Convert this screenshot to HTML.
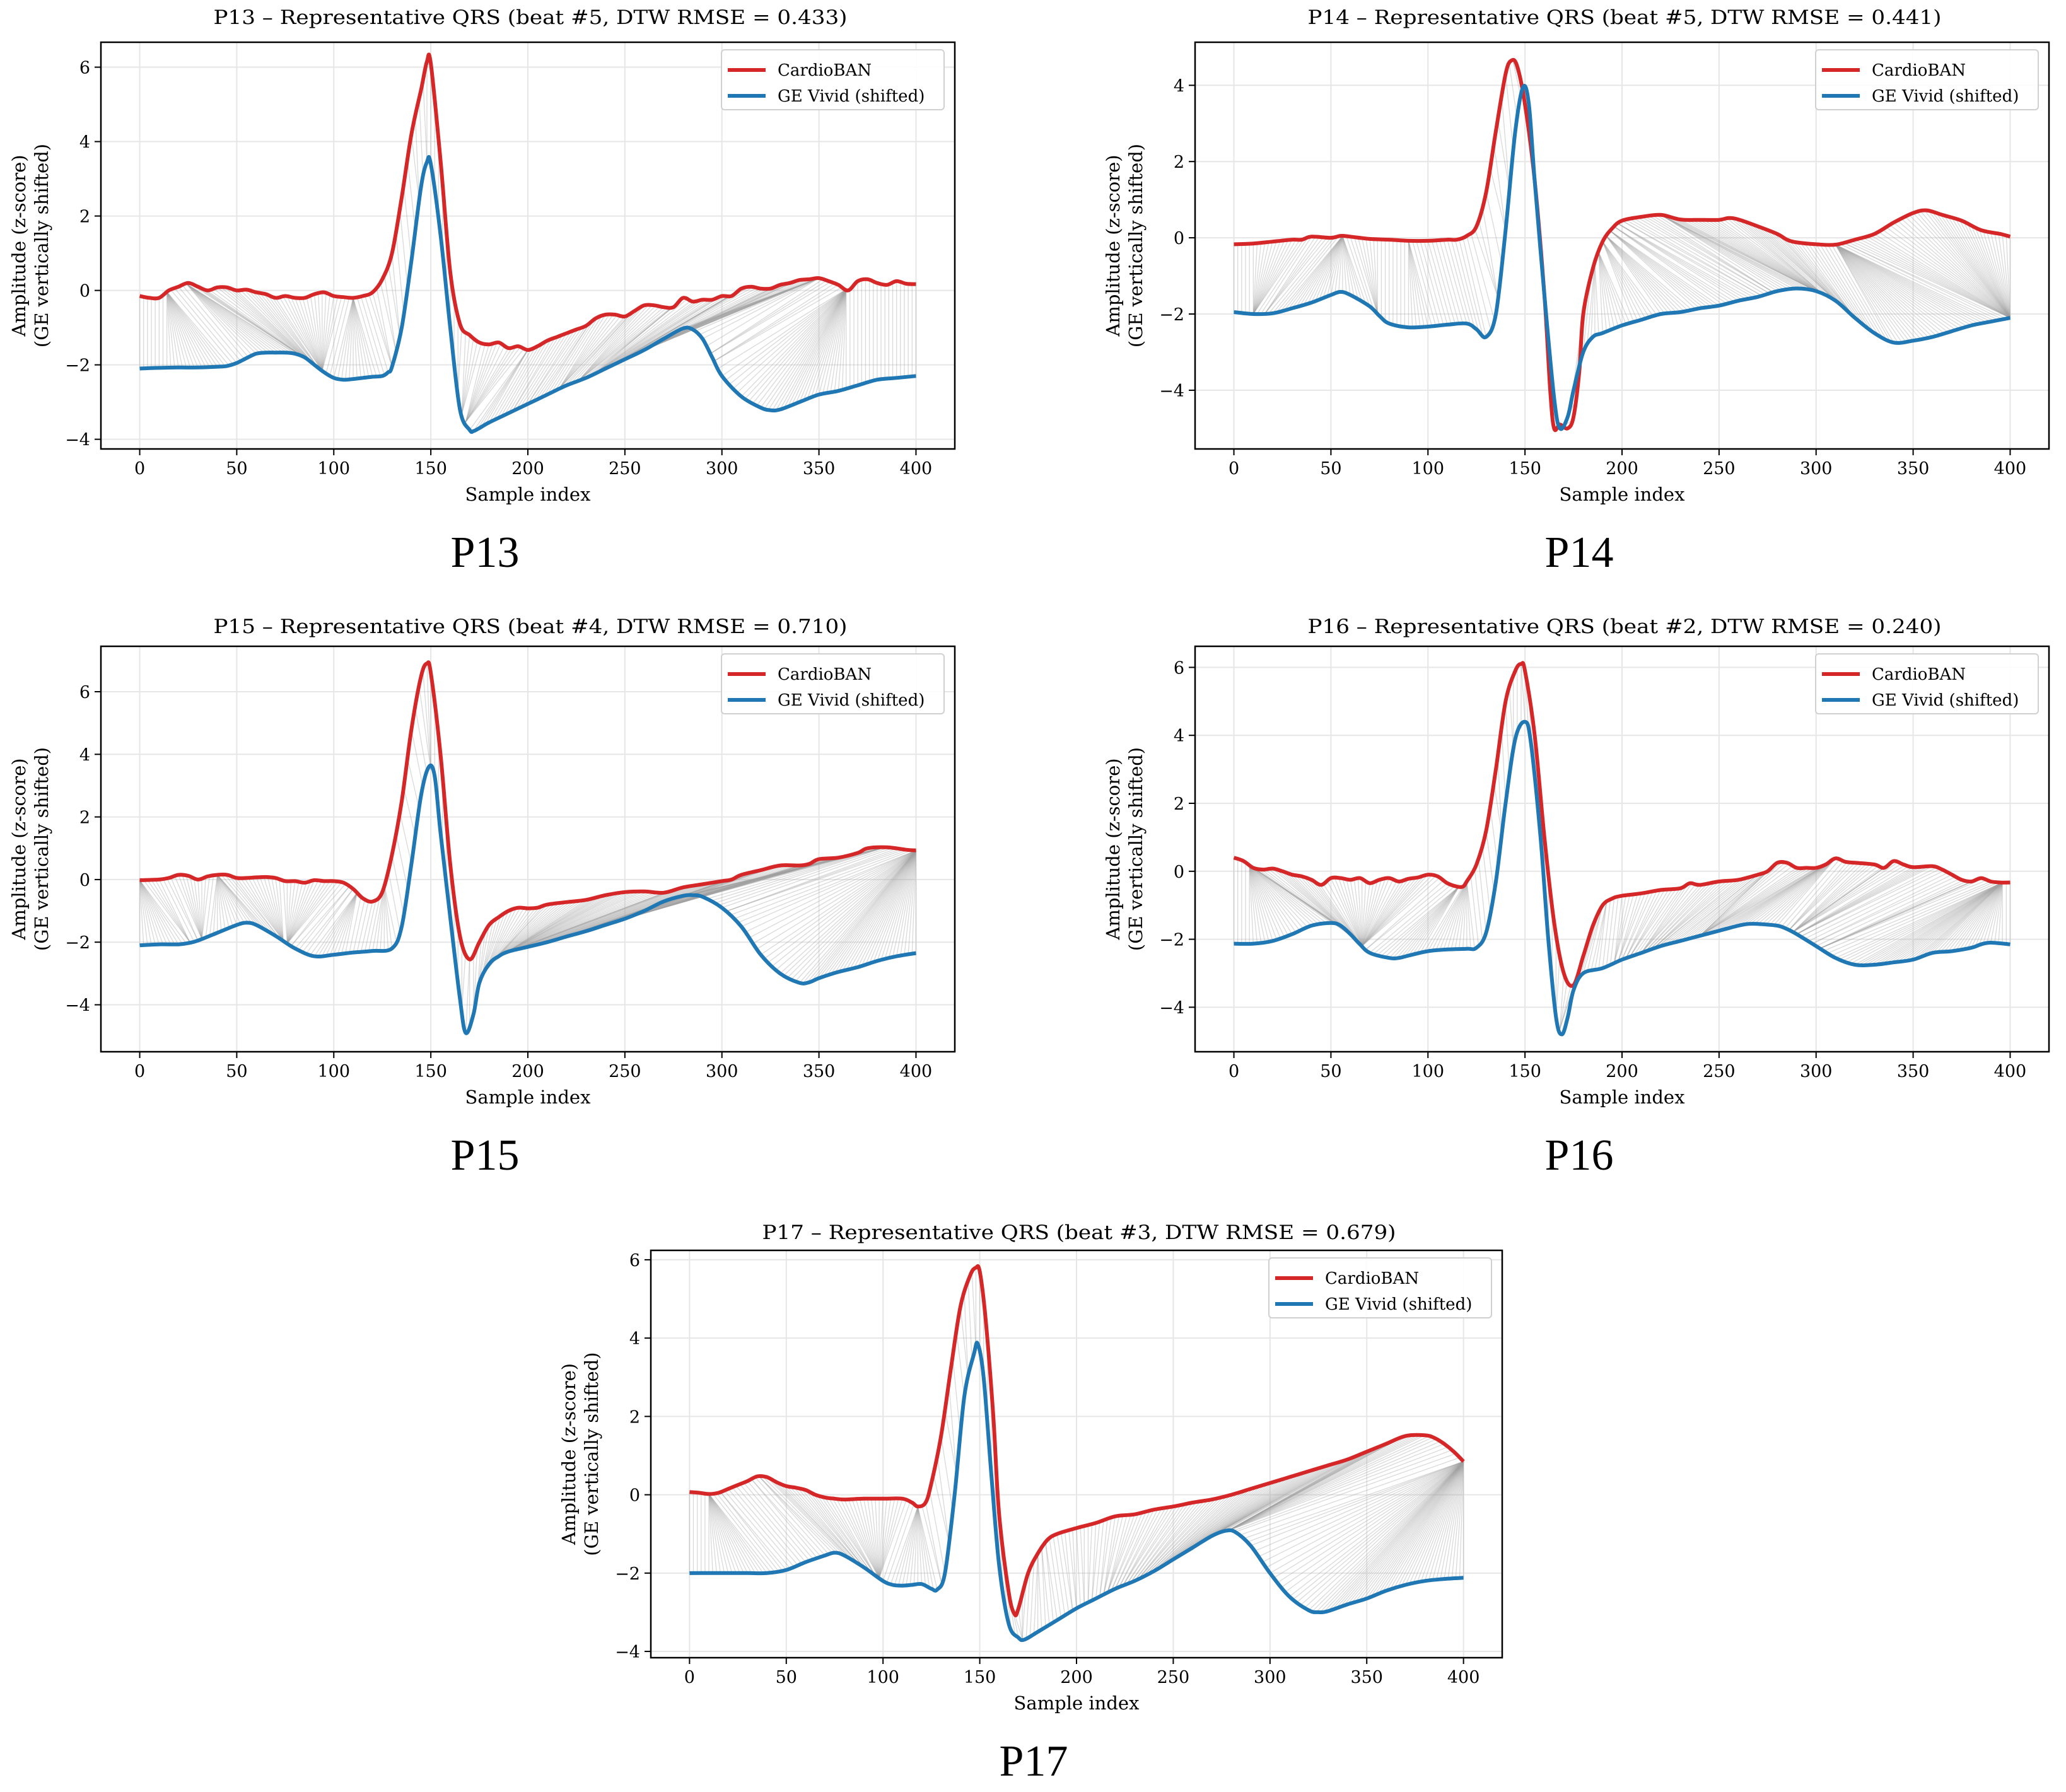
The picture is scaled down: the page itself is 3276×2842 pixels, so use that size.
<!DOCTYPE html>
<html><head><meta charset="utf-8">
<style>
html,body{margin:0;padding:0;background:#fff;}
svg{display:block;}
text{font-family:"DejaVu Serif","Liberation Serif",serif;fill:#000;}
.cap{font-family:"Liberation Serif",serif;}
</style></head>
<body>
<svg id="fig" width="3276" height="2842" viewBox="0 0 3276 2842" xmlns="http://www.w3.org/2000/svg"></svg>
<script>
// ---- data (sample index / amplitude) ----
const p13RedX=[0,5,10,15,20,25,30,35,40,45,50,55,60,65,70,75,80,85,90,95,100,105,110,115,120,125,130,135,140,145,148,150,155,160,165,170,175,180,185,190,195,200,205,210,215,220,225,230,235,240,245,250,255,260,265,270,275,280,285,290,295,300,305,310,315,320,325,330,335,340,345,350,355,360,365,370,375,380,385,390,395,400];
const p13RedY=[-0.15,-0.2,-0.2,0.0,0.1,0.2,0.1,0.0,0.08,0.08,0.0,0.02,-0.05,-0.1,-0.2,-0.15,-0.2,-0.2,-0.1,-0.05,-0.15,-0.18,-0.2,-0.15,-0.05,0.3,1.0,2.5,4.2,5.4,6.15,6.1,3.5,0.5,-0.9,-1.2,-1.4,-1.45,-1.4,-1.55,-1.5,-1.6,-1.5,-1.35,-1.25,-1.15,-1.05,-0.95,-0.75,-0.65,-0.65,-0.7,-0.55,-0.4,-0.4,-0.45,-0.45,-0.2,-0.3,-0.25,-0.25,-0.15,-0.15,0.05,0.1,0.05,0.05,0.15,0.2,0.28,0.3,0.33,0.25,0.15,0.0,0.25,0.3,0.2,0.15,0.25,0.18,0.17];
const p13BlueX=[0,10,20,30,40,45,50,55,60,65,70,75,80,85,90,95,100,105,110,115,120,125,128,130,135,140,145,148,150,155,160,165,170,172,175,180,190,200,210,220,230,240,250,260,270,280,285,290,295,300,310,320,325,330,340,350,360,370,380,390,400];
const p13BlueY=[-2.1,-2.08,-2.07,-2.07,-2.05,-2.03,-1.95,-1.82,-1.7,-1.67,-1.67,-1.67,-1.7,-1.8,-2.0,-2.2,-2.35,-2.4,-2.38,-2.35,-2.32,-2.3,-2.2,-2.05,-1.0,0.8,2.8,3.45,3.4,1.5,-1.0,-3.2,-3.75,-3.78,-3.7,-3.55,-3.3,-3.05,-2.8,-2.55,-2.35,-2.1,-1.85,-1.6,-1.3,-1.02,-1.05,-1.3,-1.8,-2.3,-2.85,-3.15,-3.22,-3.2,-3.0,-2.8,-2.7,-2.55,-2.4,-2.35,-2.3];

const p14RedX=[0,10,20,30,35,40,50,55,60,70,80,90,100,110,115,120,125,130,135,140,143,146,150,155,160,163,165,168,172,175,178,180,185,190,195,200,210,220,230,240,250,255,260,270,280,285,290,300,310,320,330,340,350,357,365,375,385,395,400];
const p14RedY=[-0.17,-0.15,-0.1,-0.05,-0.05,0.03,0.0,0.05,0.03,-0.03,-0.05,-0.08,-0.08,-0.05,-0.05,0.05,0.3,1.2,2.8,4.3,4.65,4.5,3.5,1.5,-1.5,-4.0,-5.0,-4.9,-5.0,-4.7,-3.5,-2.0,-0.8,-0.1,0.25,0.45,0.55,0.6,0.48,0.47,0.47,0.52,0.48,0.3,0.1,-0.05,-0.12,-0.17,-0.18,-0.05,0.1,0.4,0.65,0.72,0.6,0.45,0.2,0.1,0.03];
const p14BlueX=[0,10,20,30,40,50,55,60,70,75,80,90,100,110,120,125,130,135,140,145,149,152,155,160,165,168,172,175,180,185,190,200,210,220,230,240,250,260,270,280,290,300,310,320,330,340,350,360,370,380,390,400];
const p14BlueY=[-1.95,-2.0,-1.98,-1.85,-1.7,-1.5,-1.42,-1.5,-1.8,-2.05,-2.25,-2.35,-2.33,-2.28,-2.25,-2.4,-2.6,-2.0,0.2,2.8,3.95,3.5,1.5,-1.5,-4.2,-5.0,-4.7,-4.0,-3.0,-2.6,-2.5,-2.3,-2.15,-2.0,-1.95,-1.85,-1.78,-1.65,-1.55,-1.4,-1.33,-1.4,-1.65,-2.1,-2.5,-2.75,-2.7,-2.6,-2.45,-2.3,-2.2,-2.1];

const p15RedX=[0,10,15,20,25,30,35,40,45,50,55,60,65,70,75,80,85,90,95,100,105,110,115,120,125,130,135,140,145,148,150,155,160,165,170,175,180,185,190,195,200,205,210,220,230,240,250,260,270,280,290,300,305,310,320,330,340,345,350,360,370,375,385,395,400];
const p15RedY=[-0.02,0.0,0.05,0.15,0.12,0.0,0.1,0.15,0.15,0.05,0.05,0.07,0.08,0.05,-0.05,-0.05,-0.1,-0.02,-0.05,-0.05,-0.1,-0.3,-0.6,-0.7,-0.4,0.8,2.5,4.8,6.5,6.9,6.6,4.0,0.5,-1.8,-2.55,-2.0,-1.45,-1.2,-1.0,-0.9,-0.92,-0.9,-0.8,-0.72,-0.65,-0.5,-0.4,-0.38,-0.42,-0.25,-0.15,-0.05,0.0,0.15,0.3,0.45,0.45,0.5,0.65,0.7,0.85,1.0,1.03,0.95,0.93];
const p15BlueX=[0,10,20,25,30,40,50,55,60,70,80,90,100,110,120,130,135,140,145,149,152,155,160,165,168,172,175,180,185,190,200,210,220,230,240,250,260,270,280,285,290,300,310,320,330,340,345,350,360,370,380,390,400];
const p15BlueY=[-2.1,-2.07,-2.07,-2.03,-1.95,-1.7,-1.45,-1.38,-1.45,-1.8,-2.2,-2.45,-2.4,-2.33,-2.28,-2.2,-1.5,0.5,2.7,3.6,3.3,1.5,-1.2,-3.8,-4.9,-4.3,-3.3,-2.7,-2.45,-2.3,-2.15,-2.0,-1.82,-1.65,-1.45,-1.25,-1.0,-0.7,-0.52,-0.5,-0.55,-0.9,-1.5,-2.4,-3.0,-3.3,-3.28,-3.15,-2.95,-2.8,-2.6,-2.45,-2.35];

const p16RedX=[0,5,10,15,20,25,30,35,40,45,50,55,60,65,70,75,80,85,90,95,100,105,110,115,118,120,125,130,135,140,145,148,150,155,160,165,170,175,180,185,190,195,200,210,220,230,235,240,250,260,270,275,280,285,290,295,300,305,310,315,320,330,335,340,345,350,360,365,370,375,380,385,390,395,400];
const p16RedY=[0.4,0.3,0.1,0.05,0.08,0.0,-0.1,-0.15,-0.25,-0.4,-0.2,-0.2,-0.25,-0.2,-0.35,-0.25,-0.2,-0.3,-0.22,-0.18,-0.1,-0.15,-0.35,-0.45,-0.45,-0.3,0.2,1.2,3.0,5.0,5.9,6.1,5.9,4.0,1.0,-1.5,-3.0,-3.35,-2.5,-1.6,-1.0,-0.8,-0.72,-0.65,-0.55,-0.5,-0.35,-0.4,-0.3,-0.25,-0.1,0.0,0.25,0.25,0.1,0.1,0.1,0.2,0.38,0.28,0.25,0.2,0.1,0.3,0.2,0.12,0.15,0.05,-0.1,-0.25,-0.3,-0.2,-0.3,-0.33,-0.33];
const p16BlueX=[0,10,20,30,40,50,55,60,65,70,80,85,90,100,110,120,125,130,135,140,145,150,153,158,162,166,169,172,175,180,190,200,210,220,230,240,250,260,265,270,280,285,290,300,310,320,330,340,350,360,370,380,385,390,400];
const p16BlueY=[-2.13,-2.13,-2.05,-1.85,-1.6,-1.52,-1.6,-1.85,-2.15,-2.4,-2.55,-2.55,-2.48,-2.35,-2.3,-2.28,-2.25,-1.8,-0.3,2.0,3.9,4.4,3.8,1.0,-2.0,-4.3,-4.8,-4.3,-3.5,-3.0,-2.85,-2.6,-2.4,-2.2,-2.05,-1.9,-1.75,-1.6,-1.55,-1.55,-1.6,-1.7,-1.85,-2.2,-2.55,-2.75,-2.75,-2.68,-2.6,-2.4,-2.35,-2.25,-2.15,-2.1,-2.15];

const p17RedX=[0,5,10,15,20,25,30,35,40,45,50,55,60,65,70,75,80,90,100,110,115,118,122,125,130,135,140,145,148,150,153,157,160,165,168,170,175,180,185,190,200,210,220,230,240,250,260,270,280,290,300,310,320,330,340,350,360,370,380,385,390,395,400];
const p17RedY=[0.07,0.05,0.02,0.05,0.15,0.25,0.35,0.47,0.45,0.32,0.22,0.18,0.12,0.0,-0.07,-0.1,-0.12,-0.1,-0.1,-0.1,-0.2,-0.3,-0.2,0.3,1.5,3.2,4.8,5.6,5.8,5.7,4.5,2.0,-0.5,-2.5,-3.05,-2.9,-2.0,-1.5,-1.15,-1.0,-0.85,-0.72,-0.55,-0.5,-0.38,-0.3,-0.2,-0.12,0.0,0.15,0.3,0.45,0.6,0.75,0.9,1.1,1.3,1.5,1.52,1.45,1.3,1.1,0.85];
const p17BlueX=[0,10,20,30,40,50,60,70,75,80,90,100,105,110,115,120,125,128,132,137,142,147,149,152,156,160,165,170,173,180,190,200,210,220,230,240,250,260,270,277,282,290,300,310,320,325,330,340,350,360,370,380,390,400];
const p17BlueY=[-2.0,-2.0,-2.0,-2.0,-2.0,-1.92,-1.72,-1.55,-1.48,-1.55,-1.85,-2.2,-2.3,-2.32,-2.3,-2.28,-2.4,-2.42,-2.0,0.0,2.5,3.6,3.85,3.0,0.5,-1.8,-3.3,-3.65,-3.7,-3.5,-3.2,-2.9,-2.65,-2.4,-2.2,-1.95,-1.65,-1.35,-1.05,-0.92,-0.95,-1.3,-2.0,-2.6,-2.95,-3.0,-2.97,-2.8,-2.65,-2.45,-2.3,-2.2,-2.15,-2.12];

const xTicks=[0,50,100,150,200,250,300,350,400];
const titles=["P13 – Representative QRS (beat #5, DTW RMSE = 0.433)","P14 – Representative QRS (beat #5, DTW RMSE = 0.441)","P15 – Representative QRS (beat #4, DTW RMSE = 0.710)","P16 – Representative QRS (beat #2, DTW RMSE = 0.240)","P17 – Representative QRS (beat #3, DTW RMSE = 0.679)"];
const captions=["P13","P14","P15","P16","P17"];
const legendLabels=["CardioBAN","GE Vivid (shifted)"];
const geShift=2;

const NS="http://www.w3.org/2000/svg";
const svg=document.getElementById('fig');
function mk(tag,attrs,parent){const e=document.createElementNS(NS,tag);for(const k in attrs)e.setAttribute(k,attrs[k]);(parent||svg).appendChild(e);return e;}

function at(xs,ys,s){
  for(let i=1;i<xs.length;i++){if(s<=xs[i]){const t=(s-xs[i-1])/(xs[i]-xs[i-1]);return ys[i-1]+t*(ys[i]-ys[i-1]);}}
  return ys[ys.length-1];
}
function dtwPath(a,b){
  const n=a.length,m=b.length,INF=1e18;
  const D=[];for(let i=0;i<=n;i++){D.push(new Float64Array(m+1).fill(INF));}
  D[0][0]=0;
  for(let i=1;i<=n;i++)for(let j=1;j<=m;j++){const c=Math.abs(a[i-1]-b[j-1]);D[i][j]=c+Math.min(D[i-1][j],D[i][j-1],D[i-1][j-1]);}
  const p=[];let i=n,j=m;
  while(i>0&&j>0){p.push([i-1,j-1]);const d=D[i-1][j-1],u=D[i-1][j],l=D[i][j-1];
    if(d<=u&&d<=l){i--;j--;}else if(u<=l){i--;}else{j--;}}
  return p.reverse();
}
function smoothPath(pts){
  let d='M'+pts[0][0]+','+pts[0][1];
  for(let i=0;i<pts.length-1;i++){
    const p0=pts[Math.max(0,i-1)],p1=pts[i],p2=pts[i+1],p3=pts[Math.min(pts.length-1,i+2)];
    const c1x=p1[0]+(p2[0]-p0[0])/6,c1y=p1[1]+(p2[1]-p0[1])/6;
    const c2x=p2[0]-(p3[0]-p1[0])/6,c2y=p2[1]-(p3[1]-p1[1])/6;
    d+=` C${c1x.toFixed(1)},${c1y.toFixed(1)} ${c2x.toFixed(1)},${c2y.toFixed(1)} ${p2[0].toFixed(1)},${p2[1].toFixed(1)}`;
  }
  return d;
}

const panels=[
 {L:160,T:67,W:1354,H:645,ylo:-4.26,yhi:6.67,rx:p13RedX,ry:p13RedY,bx:p13BlueX,by:p13BlueY,tb:38},
 {L:1895,T:67,W:1354,H:645,ylo:-5.54,yhi:5.13,rx:p14RedX,ry:p14RedY,bx:p14BlueX,by:p14BlueY,tb:38},
 {L:160,T:1025,W:1354,H:643,ylo:-5.5,yhi:7.45,rx:p15RedX,ry:p15RedY,bx:p15BlueX,by:p15BlueY,tb:1004},
 {L:1895,T:1025,W:1354,H:643,ylo:-5.31,yhi:6.62,rx:p16RedX,ry:p16RedY,bx:p16BlueX,by:p16BlueY,tb:1004},
 {L:1032,T:1983,W:1350,H:646,ylo:-4.16,yhi:6.24,rx:p17RedX,ry:p17RedY,bx:p17BlueX,by:p17BlueY,tb:1965}
];

panels.forEach((P,k)=>{
  const g=mk('g',{});
  
  
  const sx=v=>P.L+(v+20)/440*P.W;
  const sy=v=>P.T+(P.yhi-v)/(P.yhi-P.ylo)*P.H;
  const cx=P.L+P.W/2;
  const t=mk('text',{x:cx+4,y:P.tb,'text-anchor':'middle','font-size':31,textLength:1005,lengthAdjust:'spacingAndGlyphs'},g);
  t.textContent=titles[k];
  
  
  const grid=mk('g',{stroke:'#e6e6e6','stroke-width':2},g);
  
  
  xTicks.forEach(v=>mk('line',{x1:sx(v),x2:sx(v),y1:P.T,y2:P.T+P.H},grid));
  const yTicks=[];for(let v=Math.ceil(P.ylo/2)*2;v<=P.yhi;v+=2)yTicks.push(v);
  yTicks.forEach(v=>mk('line',{x1:P.L,x2:P.L+P.W,y1:sy(v),y2:sy(v)},grid));
  const S=[];for(let s=0;s<=400;s+=2)S.push(s);
  const a=S.map(s=>at(P.rx,P.ry,s)), b=S.map(s=>at(P.bx,P.by,s)+geShift);
  const path=dtwPath(a,b);
  const dl=mk('g',{stroke:'#a0a0a0','stroke-width':1.3,'stroke-opacity':0.4},g);
  
  
  path.forEach(([i,j])=>{
    mk('line',{x1:sx(S[i]),y1:sy(a[i]),x2:sx(S[j]),y2:sy(b[j]-geShift)},dl);
  });
  const red=mk('path',{d:smoothPath(P.rx.map((x,i)=>[sx(x),sy(P.ry[i])])),fill:'none',stroke:'#d62728','stroke-width':6,'stroke-linejoin':'round'},g);
  
  
  const blue=mk('path',{d:smoothPath(P.bx.map((x,i)=>[sx(x),sy(P.by[i])])),fill:'none',stroke:'#1f77b4','stroke-width':6,'stroke-linejoin':'round'},g);
  
  
  const fr=mk('rect',{x:P.L,y:P.T,width:P.W,height:P.H,fill:'none',stroke:'#000','stroke-width':2.5},g);
  
  
  const xa=mk('g',{},g);
  
  
  xTicks.forEach(v=>{
    mk('line',{x1:sx(v),x2:sx(v),y1:P.T+P.H,y2:P.T+P.H+10,stroke:'#000','stroke-width':2},xa);
    const tl=mk('text',{x:sx(v),y:P.T+P.H+40,'text-anchor':'middle','font-size':27},xa);
    tl.textContent=v;
    
    
  });
  const xl=mk('text',{x:cx,y:P.T+P.H+82,'text-anchor':'middle','font-size':29},g);
  xl.textContent='Sample index';
  
  
  const ya=mk('g',{},g);
  
  
  yTicks.forEach(v=>{
    mk('line',{x1:P.L-10,x2:P.L,y1:sy(v),y2:sy(v),stroke:'#000','stroke-width':2},ya);
    const tl=mk('text',{x:P.L-17,y:sy(v)+10,'text-anchor':'end','font-size':27},ya);
    tl.textContent=(v<0?'\u2212'+(-v):String(v));
    
    
  });
  const cy=P.T+P.H/2;
  const yl=mk('text',{transform:`translate(${P.L-120},${cy}) rotate(-90)`,'text-anchor':'middle','font-size':29},g);
  yl.textContent='Amplitude (z-score)';
  
  
  const yl2=mk('text',{transform:`translate(${P.L-84},${cy}) rotate(-90)`,'text-anchor':'middle','font-size':29},g);
  yl2.textContent='(GE vertically shifted)';
  
  
  const lx=P.L+P.W-17-353, ly=P.T+12;
  const lg=mk('g',{},g);
  
  
  mk('rect',{x:lx,y:ly,width:353,height:95,rx:5,fill:'#fff','fill-opacity':0.85,stroke:'#d0d0d0','stroke-width':2},lg);
  [['#d62728',32],['#1f77b4',73]].forEach(([c,dy],i)=>{
    const e=mk('g',{},lg);
    
    
    mk('line',{x1:lx+10,x2:lx+70,y1:ly+dy,y2:ly+dy,stroke:c,'stroke-width':6},e);
    const tx=mk('text',{x:lx+89,y:ly+dy+9,'font-size':26},e);
    tx.textContent=legendLabels[i];
  });
  const cap=mk('text',{x:cx-68,y:P.T+P.H+187,'text-anchor':'middle','font-size':70,class:'cap'},g);
  cap.textContent=captions[k];
  
  
});
</script>
</body></html>
